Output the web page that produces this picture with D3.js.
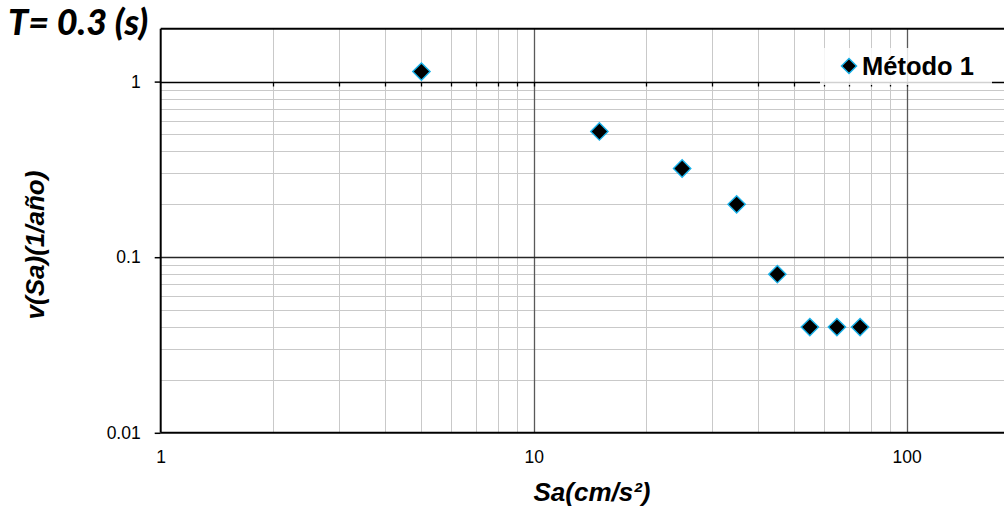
<!DOCTYPE html>
<html><head><meta charset="utf-8">
<script src="https://cdn.jsdelivr.net/npm/d3@7"></script>
<style>
html,body{margin:0;padding:0;background:#fff;}
svg{display:block;}
</style></head>
<body>
<svg id="chart" width="1004" height="510"></svg>
<script>
// ---- data ----
const saValues = [5, 15, 25, 35, 45, 55, 65, 75];
const nuValues = [1.14, 0.52, 0.32, 0.2, 0.08, 0.04, 0.04, 0.04];
const xTickValues = [1, 10, 100];
const yTickValues = [0.01, 0.1, 1];
const xTickLabels = ["1", "10", "100"];
const yTickLabels = ["0.01", "0.1", "1"];
const seriesName = "Método 1";
const chartTitle = "T= 0.3 (s)";
const xTitle = "Sa(cm/s²)";
const yTitle = "v(Sa)(1/año)";

(function () {
const svg = d3.select("#chart");
const left = 160.7, dec = 373, bottom = 432.8, ydec = 175.6;
const x = d3.scaleLog().domain([1, 1000]).range([left, left + 3 * dec]);
const y = d3.scaleLog().domain([0.01, 2]).range([bottom, bottom - Math.log10(200) * ydec]);
const yTop = y(2);
const right = 1010;
const crisp = v => Math.round(v) + 0.5;

const xMinor = [], yMinor = [];
[1, 10, 100].forEach(d => { for (let k = 2; k <= 9; k++) xMinor.push(k * d); });
[0.01, 0.1].forEach(d => { for (let k = 2; k <= 9; k++) yMinor.push(+(k * d).toFixed(3)); });

const g = svg.append("g");
g.selectAll(".xm").data(xMinor.filter(v => x(v) < right)).enter().append("line")
  .attr("x1", d => crisp(x(d))).attr("x2", d => crisp(x(d)))
  .attr("y1", yTop).attr("y2", bottom).attr("stroke", "#c9c9c9").attr("stroke-width", 1);
g.selectAll(".ym").data(yMinor).enter().append("line")
  .attr("y1", d => crisp(y(d))).attr("y2", d => crisp(y(d)))
  .attr("x1", left).attr("x2", right).attr("stroke", "#c9c9c9").attr("stroke-width", 1);
g.selectAll(".xM").data([10, 100]).enter().append("line")
  .attr("x1", d => crisp(x(d))).attr("x2", d => crisp(x(d)))
  .attr("y1", yTop).attr("y2", bottom).attr("stroke", "#595959").attr("stroke-width", 1.3);
g.selectAll(".yM").data([0.1]).enter().append("line")
  .attr("y1", d => crisp(y(d))).attr("y2", d => crisp(y(d)))
  .attr("x1", left).attr("x2", right).attr("stroke", "#262626").attr("stroke-width", 1.3);

g.append("line").attr("x1", left).attr("x2", right)
  .attr("y1", crisp(y(1))).attr("y2", crisp(y(1))).attr("stroke", "#000").attr("stroke-width", 1.5);
g.selectAll(".tk").data(xMinor.concat([10, 100]).filter(v => x(v) < right)).enter().append("line")
  .attr("x1", d => crisp(x(d))).attr("x2", d => crisp(x(d)))
  .attr("y1", crisp(y(1))).attr("y2", crisp(y(1)) + 4).attr("stroke", "#000").attr("stroke-width", 1.3);

g.append("line").attr("x1", left).attr("x2", right).attr("y1", yTop).attr("y2", yTop)
  .attr("stroke", "#000").attr("stroke-width", 2);
g.append("line").attr("x1", left).attr("x2", right).attr("y1", bottom).attr("y2", bottom)
  .attr("stroke", "#000").attr("stroke-width", 2);

const yAxis = d3.axisLeft(y).tickValues(yTickValues)
  .tickFormat((d, i) => yTickLabels[i]).tickSize(6).tickPadding(14);
const ya = svg.append("g").attr("transform", `translate(${left},0)`).call(yAxis);
ya.select(".domain").attr("stroke", "#000").attr("stroke-width", 2).attr("d", `M0,${yTop}V${bottom}`);
ya.selectAll(".tick line").attr("stroke", "#000").attr("stroke-width", 1.5);
ya.selectAll("text").attr("font-family", "Liberation Sans, Arial, sans-serif")
  .attr("font-size", 17.5).attr("fill", "#000");

const xAxis = d3.axisBottom(x).tickValues(xTickValues)
  .tickFormat((d, i) => xTickLabels[i]).tickSize(0).tickPadding(18);
const xa = svg.append("g").attr("transform", `translate(0,${bottom})`).call(xAxis);
xa.select(".domain").remove();
xa.selectAll("text").attr("font-family", "Liberation Sans, Arial, sans-serif")
  .attr("font-size", 17.5).attr("fill", "#000");

svg.append("g").selectAll("path").data(saValues.map((s, i) => [s, nuValues[i]])).enter()
  .append("path")
  .attr("d", d3.symbol().type(d3.symbolSquare).size(150))
  .attr("transform", d => `translate(${x(d[0])},${y(d[1])}) rotate(45)`)
  .attr("fill", "#000").attr("stroke", "#19b2ea").attr("stroke-width", 1.4);

const lg = svg.append("g");
lg.append("rect").attr("x", 820).attr("y", 48).attr("width", 172).attr("height", 37)
  .attr("fill", "#fff").attr("fill-opacity", 0.82);
lg.append("path").attr("d", d3.symbol().type(d3.symbolSquare).size(115))
  .attr("transform", "translate(849,66) rotate(45)")
  .attr("fill", "#000").attr("stroke", "#19b2ea").attr("stroke-width", 1.4);
lg.append("text").attr("x", 862).attr("y", 66).attr("dy", "0.35em")
  .attr("font-family", "Liberation Sans, Arial, sans-serif").attr("font-weight", "bold")
  .attr("font-size", 25.5).text(seriesName);

svg.append("text").attr("x", 8).attr("y", 35)
  .attr("font-family", "Lato, 'Open Sans', sans-serif").attr("font-weight", "900")
  .attr("font-style", "italic").attr("font-size", 36).text(chartTitle);
svg.append("text").attr("x", 592).attr("y", 501)
  .attr("text-anchor", "middle")
  .attr("font-family", "Liberation Sans, Arial, sans-serif").attr("font-weight", "bold")
  .attr("font-style", "italic").attr("font-size", 26).text(xTitle);
svg.append("text").attr("transform", "translate(44,245) rotate(-90)")
  .attr("text-anchor", "middle")
  .attr("font-family", "Liberation Sans, Arial, sans-serif").attr("font-weight", "bold")
  .attr("font-style", "italic").attr("font-size", 26).text(yTitle);
})();
</script>
</body></html>
